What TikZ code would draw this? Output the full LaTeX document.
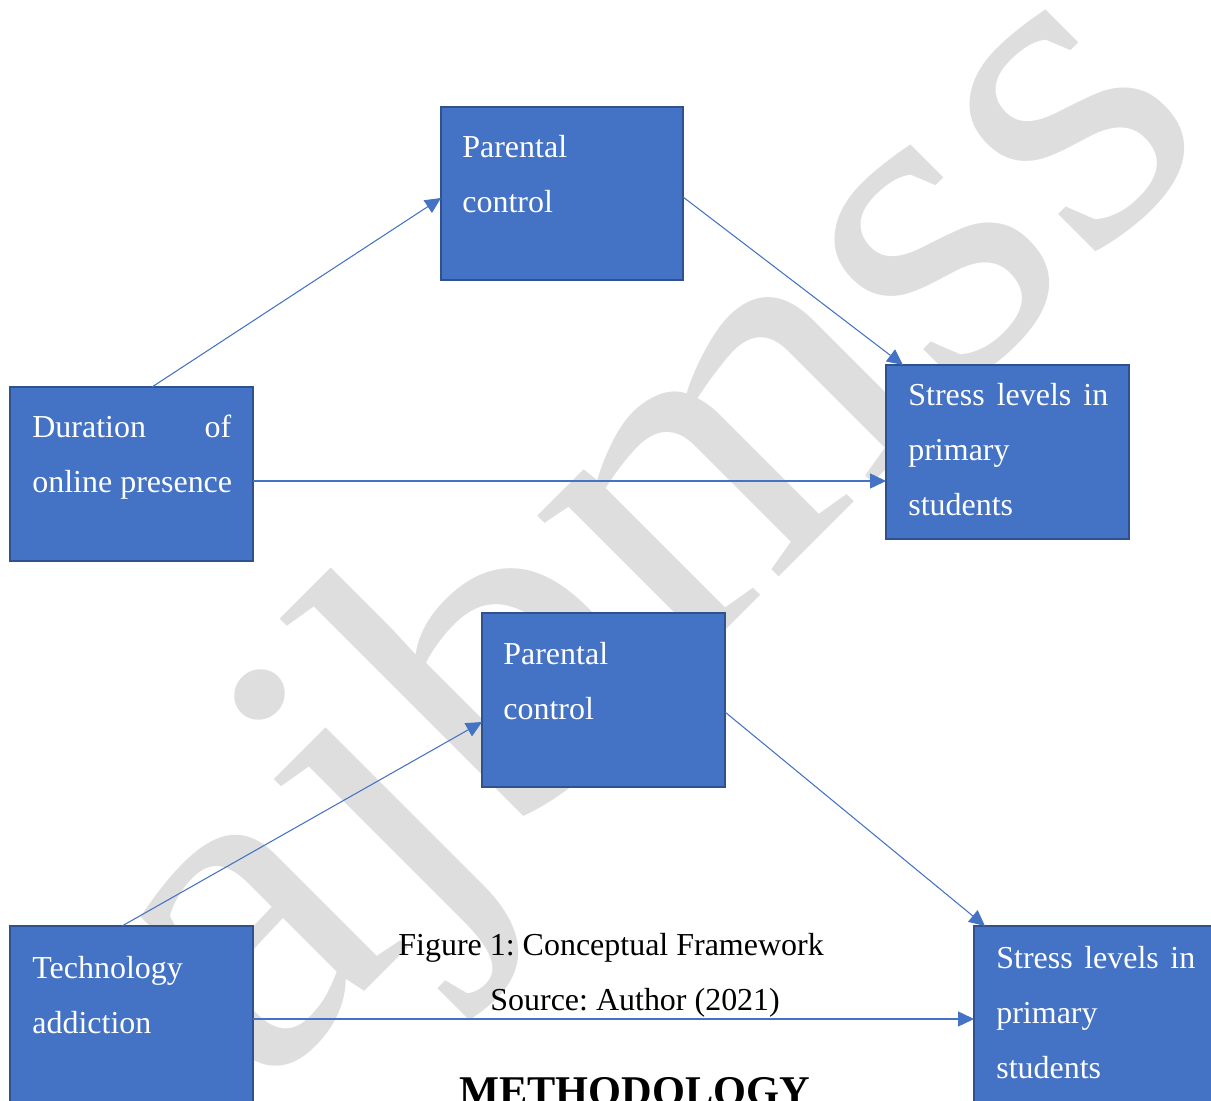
\documentclass[tikz,border=0pt]{standalone}
\usepackage{fontspec}
\setmainfont{Liberation Serif}
\usetikzlibrary{calc,arrows.meta}
\frenchspacing
\newlength\pxu
\setlength\pxu{0.02cm}
\definecolor{boxfill}{HTML}{4472C4}
\definecolor{boxline}{HTML}{2F528F}
\definecolor{arrowc}{HTML}{4472C4}
\definecolor{wmgray}{HTML}{DEDEDE}
\begin{document}
\begin{tikzpicture}[x=0.02cm,y=-0.02cm,
  blk/.style={draw=boxline, fill=boxfill, line width=1.1pt, rectangle, inner sep=0pt, outer sep=0pt, anchor=north west},
  lbl/.style={text=white, font=\fontsize{18.2}{22}\selectfont, anchor=base west, inner sep=0pt},
  captxt/.style={text=black, font=\fontsize{18.2}{22}\selectfont, anchor=base west, inner sep=0pt},
  conn/.style={draw=arrowc, line width=0.6pt, -{Triangle[length=9pt,width=8.5pt]}}]
\useasboundingbox (0,0) rectangle (1211,1101);
% watermark
\node[font=\fontsize{265}{265}\selectfont, text=wmgray, rotate=45, xscale=1.05, anchor=base west, inner sep=0pt] (wm) at (259,1097) {ajbmss};
% boxes
\node[blk, minimum width=242\pxu, minimum height=173\pxu] (pc1) at (441,107) {};
\node[blk, minimum width=243\pxu, minimum height=174\pxu] (dur) at (10,387) {};
\node[blk, minimum width=243\pxu, minimum height=174\pxu] (sl1) at (886,365) {};
\node[blk, minimum width=243\pxu, minimum height=174\pxu] (pc2) at (482,613) {};
\node[blk, minimum width=243\pxu, minimum height=200\pxu] (tech) at (10,926) {};
\node[blk, minimum width=260\pxu, minimum height=200\pxu] (sl2) at (974,926) {};
% box texts
\node[lbl] (pc1a) at ($(pc1.north west)+(21,51)$) {Parental};
\node[lbl] (pc1b) at ($(pc1.north west)+(21,106)$) {control};
\node[lbl] (dura) at ($(dur.north west)+(22,51)$) {\makebox[199\pxu][s]{Duration of}};
\node[lbl] (durb) at ($(dur.north west)+(22,106)$) {online presence};
\node[lbl] (sl1a) at ($(sl1.north west)+(22,41)$) {\makebox[200\pxu][s]{Stress levels in}};
\node[lbl] (sl1b) at ($(sl1.north west)+(22,96)$) {primary};
\node[lbl] (sl1c) at ($(sl1.north west)+(22,151)$) {students};
\node[lbl] (pc2a) at ($(pc2.north west)+(21,51)$) {Parental};
\node[lbl] (pc2b) at ($(pc2.north west)+(21,106)$) {control};
\node[lbl] (techa) at ($(tech.north west)+(22,52)$) {Technology};
\node[lbl] (techb) at ($(tech.north west)+(22,107)$) {addiction};
\node[lbl] (sl2a) at ($(sl2.north west)+(22,42)$) {\makebox[199\pxu][s]{Stress levels in}};
\node[lbl] (sl2b) at ($(sl2.north west)+(22,97)$) {primary};
\node[lbl] (sl2c) at ($(sl2.north west)+(22,152)$) {students};
% connectors
\draw[conn] ($(dur.north west)+(142,0)$) -- ($(pc1.north west)+(0,91)$);
\draw[conn] ($(pc1.north east)+(0,90)$) -- ($(sl1.north west)+(17,0)$);
\draw[conn] ($(dur.north east)+(0,94)$) -- ($(sl1.north west)+(0,116)$);
\draw[conn] ($(tech.north west)+(112,0)$) -- ($(pc2.north west)+(0,109)$);
\draw[conn] ($(pc2.north east)+(0,99)$) -- ($(sl2.north west)+(11,0)$);
\draw[conn] ($(tech.north east)+(0,93)$) -- ($(sl2.north west)+(0,93)$);
% captions
\node[captxt] (fig) at (398,955) {Figure 1: Conceptual Framework};
\node[captxt] (src) at (490,1010) {Source: Author (2021)};
\node[captxt, font=\fontsize{24.1}{28}\selectfont\bfseries] (meth) at (459,1105) {METHODOLOGY};
\end{tikzpicture}
\end{document}
